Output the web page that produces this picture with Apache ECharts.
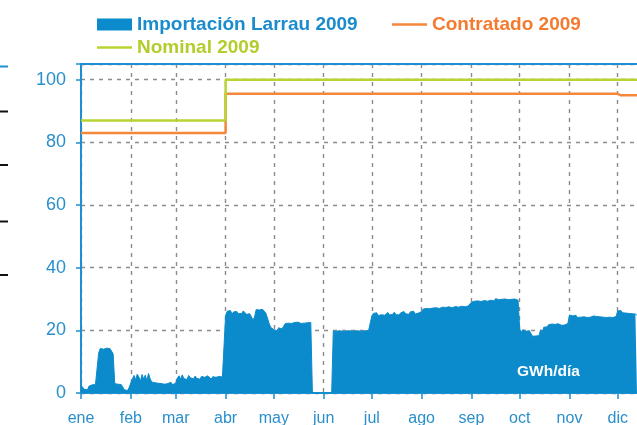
<!DOCTYPE html>
<html>
<head>
<meta charset="utf-8">
<script src="https://cdn.jsdelivr.net/npm/echarts@6/dist/echarts.min.js"></script>
<style>
  html, body { margin: 0; padding: 0; background: #fff; }
  #chart { width: 637px; height: 425px; }
</style>
</head>
<body>
<div id="chart"></div>
<script>
// month names (x axis labels)
const months = ["ene", "feb", "mar", "abr", "may", "jun", "jul", "ago", "sep", "oct", "nov", "dic"];

// Importación Larrau 2009, GWh/día, one value per day (picture is cut off mid December)
const ene = [2.5, 2.8, 1.2, 0.8, 1.0, 2.2, 2.4, 2.6, 2.5, 2.7, 3.0, 12.8, 14.2, 14.5, 14.0, 14.6, 14.3, 14.7, 14.2, 13.9, 12.5, 3.0, 2.6, 2.8, 2.4, 2.7, 2.2, 1.0, 0.5, 0.8, 1.8];
const feb = [3.2, 4.5, 5.6, 4.2, 6.0, 5.1, 3.8, 5.9, 4.4, 5.7, 3.9, 6.2, 4.6, 3.5, 3.0, 3.3, 2.9, 3.1, 2.6, 3.0, 3.2, 2.8, 2.4, 3.0, 2.7, 3.4, 2.6, 3.1];
const mar = [3.2, 4.8, 5.5, 4.4, 5.8, 4.6, 5.2, 4.3, 5.6, 4.9, 5.0, 4.5, 5.4, 4.7, 5.1, 4.4, 5.3, 4.8, 5.0, 4.6, 5.5, 4.9, 4.4, 5.2, 4.7, 5.0, 4.5, 5.3, 4.8, 5.1, 5.4];
const abr = [24.8, 26.1, 25.6, 26.3, 25.2, 25.9, 25.5, 26.0, 25.3, 25.8, 25.4, 26.2, 25.6, 25.1, 25.7, 25.3, 25.9, 23.4, 24.2, 26.6, 26.9, 26.5, 27.0, 26.7, 26.8, 25.5, 24.0, 22.3, 21.0, 20.6];
const may = [20.2, 20.6, 19.9, 20.8, 20.3, 20.5, 21.2, 22.1, 22.5, 22.3, 22.6, 22.2, 22.4, 22.5, 22.3, 22.6, 22.4, 22.2, 22.5, 22.3, 22.6, 22.4, 22.2, 22.5, 0, 0, 0, 0, 0, 0, 0];
const jun = [0, 0, 0, 0, 0, 0, 19.8, 20.1, 19.7, 20.2, 19.9, 20.0, 19.6, 20.1, 19.8, 20.2, 19.9, 20.0, 19.7, 20.1, 19.9, 20.2, 19.8, 20.0, 19.7, 20.1, 19.9, 20.2, 20.0, 20.4];
const jul = [24.6, 25.4, 24.9, 25.6, 24.7, 25.2, 25.0, 25.5, 24.8, 25.3, 25.7, 24.9, 25.4, 25.1, 25.8, 25.0, 25.5, 24.9, 25.6, 25.2, 26.0, 25.3, 25.7, 25.1, 25.9, 25.4, 26.1, 25.2, 25.8, 25.5, 26.0];
const ago = [26.0, 26.8, 26.3, 27.0, 26.5, 26.9, 26.4, 27.1, 26.6, 27.2, 26.7, 27.0, 26.8, 27.4, 26.9, 27.3, 26.7, 27.5, 27.0, 27.2, 26.9, 27.6, 27.1, 27.4, 27.0, 27.7, 27.2, 27.5, 27.1, 27.8, 27.3];
const sep = [29.0, 29.6, 29.3, 29.9, 29.4, 29.8, 29.2, 29.7, 29.5, 30.0, 29.3, 29.8, 29.6, 29.9, 29.4, 30.1, 29.5, 29.8, 29.3, 29.9, 29.6, 30.0, 29.4, 29.8, 29.5, 29.9, 29.7, 30.0, 29.4, 29.6];
const oct = [20.4, 19.5, 20.2, 20.0, 19.7, 20.3, 19.9, 20.1, 18.1, 17.9, 18.2, 18.0, 18.3, 20.2, 19.2, 21.0, 21.3, 21.1, 21.8, 21.6, 22.0, 21.7, 21.9, 21.5, 22.1, 21.8, 21.6, 22.0, 21.7, 21.9, 22.2];
const nov = [24.9, 25.2, 24.6, 24.3, 24.8, 24.1, 24.5, 24.2, 24.6, 24.3, 24.4, 24.1, 24.5, 24.2, 24.3, 24.6, 24.2, 24.4, 24.1, 24.3, 24.5, 24.2, 24.4, 24.1, 24.3, 24.2, 24.5, 24.1, 24.3, 24.4];
const dic = [26.2, 25.8, 26.3, 25.6, 26.0, 25.5, 25.9, 25.4, 25.7, 25.3, 25.6, 25.2, 24.8];

// Contratado / Nominal 2009: value in force from a given day on
const contratadoFrom = ["1 ene", "1 abr", "1 dic"];
const contratadoValues = [83, 95.5, 95];
const nominalFrom = ["1 ene", "1 abr"];
const nominalValues = [87, 100];

// y axis ticks
const yTicks = [0, 20, 40, 60, 80, 100];

const perMonth = [ene, feb, mar, abr, may, jun, jul, ago, sep, oct, nov, dic];
const days = [];
const monthStart = [];
perMonth.forEach((vals, m) => {
  monthStart.push(days.length);
  vals.forEach((_, d) => days.push((d + 1) + " " + months[m]));
});
const importacion = [].concat(...perMonth);

function steps(from, values) {
  const starts = from.map(f => days.indexOf(f));
  return days.map((_, i) => {
    let v = null;
    starts.forEach((s, k) => { if (i >= s) v = values[k]; });
    return v;
  });
}

const BLUE = "#0b8bcb";
const AXIS_BLUE = "#1f8fd0";
const TEXT_BLUE = "#2a8fcb";
const ORANGE = "#f5873a";
const GREEN = "#b8d432";
const FONT = "Liberation Sans, Arial, sans-serif";
const isMonthStart = (i) => monthStart.indexOf(i) >= 0;
const gridDash = { color: "#8c8c8c", width: 1.4, type: [4, 5] };

// one legend per entry so the line entries can get a thin bar icon
function legendEntry(name, color, left, top, height) {
  return {
    left: left,
    top: top,
    padding: 0,
    icon: "rect",
    itemWidth: 35,
    itemHeight: height,
    textStyle: { fontFamily: FONT, fontSize: 19, fontWeight: "bold", color: color },
    data: [name],
  };
}

const chart = echarts.init(document.getElementById("chart"));

chart.setOption({
  animation: false,
  backgroundColor: "#fff",
  legend: [
    legendEntry("Importación Larrau 2009", "#1a8bcc", 97, 15, 12),
    legendEntry("Contratado 2009", "#f37a2f", 392, 15, 2.5),
    legendEntry("Nominal 2009", "#b2cd2c", 97, 38, 2.5),
  ],
  grid: { left: 81, right: 0, top: 64, bottom: 32, outerBoundsMode: "none" },
  xAxis: [
    {
      type: "category",
      data: days,
      boundaryGap: false,
      axisLine: { lineStyle: { color: AXIS_BLUE, width: 2 } },
      axisTick: { interval: isMonthStart, length: 6, lineStyle: { color: AXIS_BLUE, width: 1.5 } },
      axisLabel: {
        interval: isMonthStart,
        formatter: (v) => v.split(" ")[1],
        color: TEXT_BLUE,
        fontFamily: FONT,
        fontSize: 16,
        margin: 18,
      },
      splitLine: { show: true, interval: isMonthStart, lineStyle: gridDash },
    },
    {
      type: "category",
      data: days,
      position: "top",
      boundaryGap: false,
      axisLine: { lineStyle: { color: AXIS_BLUE, width: 2 } },
      axisTick: { show: false },
      axisLabel: { show: false },
      splitLine: { show: false },
    },
  ],
  yAxis: {
    type: "value",
    min: 0,
    max: 105,
    interval: 20,
    axisLine: { show: true, lineStyle: { color: AXIS_BLUE, width: 2 } },
    axisTick: { show: true, length: 5, lineStyle: { color: AXIS_BLUE, width: 1.5 } },
    axisLabel: {
      color: TEXT_BLUE,
      fontFamily: FONT,
      fontSize: 18,
      margin: 15,
      formatter: (v) => (yTicks.indexOf(v) >= 0 ? String(v) : ""),
    },
    splitLine: { show: true, lineStyle: gridDash },
  },
  series: [
    {
      name: "Importación Larrau 2009",
      type: "line",
      data: importacion,
      symbol: "none",
      itemStyle: { color: BLUE },
      lineStyle: { color: BLUE, width: 1 },
      areaStyle: { color: BLUE, opacity: 1 },
    },
    {
      name: "Contratado 2009",
      type: "line",
      step: "end",
      data: steps(contratadoFrom, contratadoValues),
      symbol: "none",
      itemStyle: { color: ORANGE },
      lineStyle: { color: ORANGE, width: 2.5 },
    },
    {
      name: "Nominal 2009",
      type: "line",
      step: "end",
      data: steps(nominalFrom, nominalValues),
      symbol: "none",
      itemStyle: { color: GREEN },
      lineStyle: { color: GREEN, width: 2.5 },
    },
  ],
  graphic: [
    {
      type: "text",
      left: 517,
      top: 364,
      style: { text: "GWh/día", fill: "#fff", font: "bold 15.5px " + FONT },
      z: 100,
    },
    // stray ticks of a neighbouring chart at the left edge of the picture
    { type: "line", shape: { x1: 0, y1: 66.5, x2: 8, y2: 66.5 }, style: { stroke: AXIS_BLUE, lineWidth: 2 } },
    { type: "line", shape: { x1: 0, y1: 111.5, x2: 8, y2: 111.5 }, style: { stroke: "#111", lineWidth: 2 } },
    { type: "line", shape: { x1: 0, y1: 165, x2: 8, y2: 165 }, style: { stroke: "#111", lineWidth: 2 } },
    { type: "line", shape: { x1: 0, y1: 221.5, x2: 8, y2: 221.5 }, style: { stroke: "#111", lineWidth: 2 } },
    { type: "line", shape: { x1: 0, y1: 275, x2: 8, y2: 275 }, style: { stroke: "#111", lineWidth: 2 } },
  ],
});

window.addEventListener("resize", () => chart.resize());
</script>
</body>
</html>
